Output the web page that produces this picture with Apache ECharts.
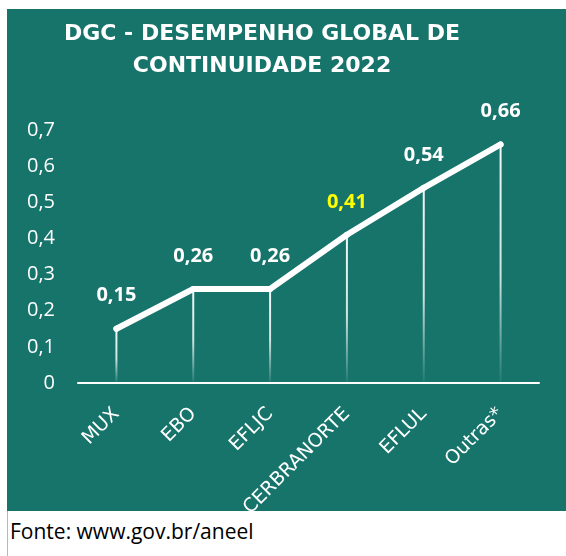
<!DOCTYPE html>
<html>
<head>
<meta charset="utf-8">
<script src="https://cdn.jsdelivr.net/npm/echarts@6/dist/echarts.min.js"></script>
<style>
  body { margin: 0; background: #ffffff; width: 566px; height: 556px; position: relative; overflow: hidden; }
  #myChart { position: absolute; left: 7px; top: 9px; width: 559px; height: 502px; background: #16746b; }
  #borda { position: absolute; left: 7px; top: 511px; width: 1px; height: 45px; background: #b8b8b8; }
  #fonte { position: absolute; left: 10px; top: 517px; font-family: 'Open Sans', sans-serif; font-size: 21px; color: #000; }
</style>
</head>
<body>
<div id="myChart"></div>
<div id="borda"></div>
<div id="fonte">Fonte: www.gov.br/aneel</div>
<script>
// dados do gráfico
const distribuidoras = ['MUX', 'EBO', 'EFLJC', 'CERBRANORTE', 'EFLUL', 'Outras*'];
const dgc = [0.15, 0.26, 0.26, 0.41, 0.54, 0.66];
const destaque = 'CERBRANORTE'; // rótulo em amarelo

const fmt = v => v === 0 ? '0' : String(v).replace('.', ',');

let myChart = echarts.init(document.getElementById('myChart'));
myChart.setOption({
  animation: false,
  title: {
    text: 'DGC - DESEMPENHO GLOBAL DE\nCONTINUIDADE 2022',
    left: 250,
    top: 4,
    textAlign: 'center',
    textStyle: { color: '#fff', fontFamily: 'DejaVu Sans', fontWeight: 'bold', fontSize: 22, lineHeight: 32 }
  },
  grid: { left: 71, right: 27, top: 121, bottom: 128, outerBoundsMode: 'none' },
  xAxis: {
    type: 'category',
    data: distribuidoras,
    axisLine: { lineStyle: { color: '#fff', width: 2 } },
    axisTick: { show: false },
    axisLabel: { rotate: 45, margin: 28, color: '#fff', fontFamily: 'DejaVu Sans', fontSize: 19 }
  },
  yAxis: {
    type: 'value',
    min: 0,
    max: 0.7,
    interval: 0.1,
    splitLine: { show: false },
    axisLine: { show: false },
    axisLabel: {
      margin: 23, color: '#fff', fontFamily: 'Open Sans', fontSize: 20,
      formatter: v => fmt(Math.round(v * 10) / 10)
    }
  },
  series: [
    {
      // linhas de chamada (drop lines)
      type: 'bar',
      data: dgc,
      barWidth: 2,
      silent: true,
      itemStyle: {
        color: new echarts.graphic.LinearGradient(0, 0, 0, 1, [
          { offset: 0, color: 'rgba(255,255,255,0.95)' },
          { offset: 0.55, color: 'rgba(255,255,255,0.8)' },
          { offset: 1, color: 'rgba(255,255,255,0.05)' }
        ])
      },
      z: 1
    },
    {
      type: 'line',
      data: dgc.map((v, i) => distribuidoras[i] === destaque ? { value: v, label: { color: '#ffff00' } } : v),
      symbol: 'circle',
      symbolSize: 6,
      itemStyle: { color: '#fff' },
      lineStyle: { color: '#fff', width: 6, cap: 'round', join: 'round' },
      label: {
        show: true,
        position: 'top',
        distance: 20,
        color: '#fff',
        fontFamily: 'Open Sans',
        fontWeight: 'bold',
        fontSize: 20,
        formatter: p => fmt(p.value)
      },
      z: 3
    }
  ]
});
</script>
</body>
</html>
